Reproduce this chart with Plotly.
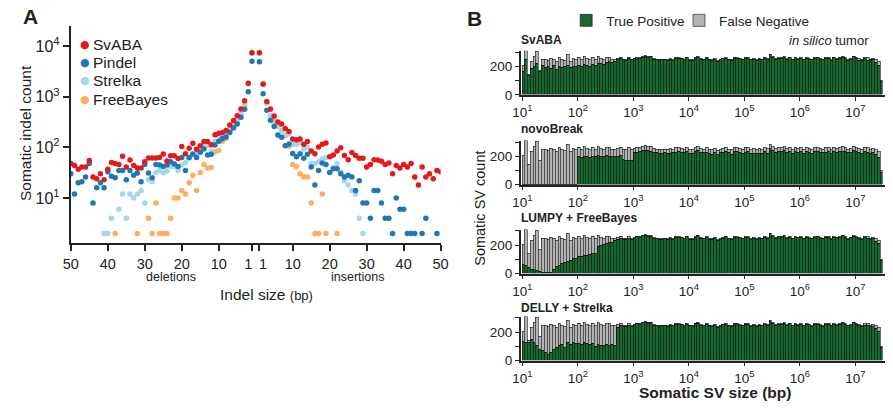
import plotly.graph_objects as go

W, H = 893, 413
def fx(px): return px / W
def fy(py): return 1 - py / H

FONT = "Liberation Sans, Arial, Helvetica, sans-serif"

# ---------------- Panel A data (index = indel size 1..50, None = no point) ----------------
indel_sizes = list(range(1, 51))
svaba_del = [7400,1850,835,575,420,340,277,215,197,189,177,113,130,130,108,92,120,96,75,104,
             60,68,68,54,74,63,62,62,62,52,39,39,44,56,41,67,46,48,50,37,
             23,30,24,26,55,41,41,37,44,48]
svaba_ins = [7400,1780,810,575,415,316,290,235,205,146,141,146,115,130,85,75,102,115,122,65,
             71,85,98,69,57,79,69,61,61,41,46,57,56,53,46,49,30,44,39,46,
             41,48,26,18,41,26,30,24,35,33]
pindel_del = [5000,1250,565,395,290,240,197,160,150,132,112,73,71,93,80,63,74,63,35,63,
              42,47,52,45,42,45,46,25,31,46,21,31,28,35,23,35,35,25,27,33,
              16,20,16,8,48,26,21,20,12,30]
pindel_ins = [4900,1150,540,345,258,175,158,108,117,76,65,75,61,73,41,18,35,49,46,32,
              38,38,30,26,28,26,14,22,8,8,4,14,14,8,4,4,2,10,6,6,
              2,2,2,None,2,4,None,None,2,None]
strelka_del = [7300,1800,630,460,360,290,260,200,168,165,132,85,108,110,85,75,72,60,50,45,
               35,42,42,34,31,35,32,21,23,8,14,12,10,12,4,12,6,None,4,2,
               2,None,None,None,None,None,None,None,None,None]
strelka_ins = [7300,1750,780,425,290,260,210,180,185,115,115,125,93,100,48,48,52,59,63,32,
               40,48,33,22,18,14,12,4,2,None,None,None,None,None,None,None,None,None,None,None,
               None,None,None,None,None,None,None,None,None,None]
freebayes_del = [7300,1800,700,460,320,255,215,150,132,87,82,40,39,46,32,14,28,20,12,14,
                 10,10,4,2,2,2,8,2,4,None,None,2,None,None,None,None,None,2,None,None,
                 None,None,None,None,None,None,None,None,None,None]
freebayes_ins = [7300,1750,750,560,345,280,215,170,105,46,42,30,26,26,8,2,2,12,2,None,
                 None,2,None,None,None,None,None,None,None,None,None,None,None,None,None,None,None,None,None,None,
                 None,None,None,None,None,None,None,None,None,None]

callers_a = [  # drawn bottom to top
    ("FreeBayes", "#fdae61", freebayes_del, freebayes_ins),
    ("Strelka", "#a6d5ec", strelka_del, strelka_ins),
    ("Pindel", "#1f78b4", pindel_del, pindel_ins),
    ("SvABA", "#e31a1c", svaba_del, svaba_ins),
]
a_xticks = [-50, -40, -30, -20, -10, -1, 1, 10, 20, 30, 40, 50]
a_xticktext = ["50", "40", "30", "20", "10", "1\u2002", "\u20021", "10", "20", "30", "40", "50"]

# ---------------- Panel B data (20 log bins per decade from 10^1) ----------------
sv_total = [
    205,310,140,230,265,300,170,250,245,240,255,250,230,260,250,240,285,235,255,250,
    260,250,265,255,245,260,250,265,255,250,262,258,245,250,255,262,250,245,258,250,
    255,262,258,270,275,265,268,255,250,245,248,250,245,252,250,258,260,255,250,262,
    248,245,262,268,255,250,258,248,245,252,240,248,255,262,250,245,258,262,255,250,
    258,260,248,252,245,255,250,258,252,285,270,252,262,258,268,255,262,250,260,255,
    258,250,262,255,248,258,262,255,250,258,260,248,262,255,258,268,260,250,255,270,
    262,255,248,262,258,250,255,245,230,100]
fn_svaba = [
    40,60,5,50,65,85,10,45,55,40,75,45,55,60,60,45,80,45,60,50,
    55,50,55,50,45,50,45,50,40,40,37,28,20,15,10,7,5,5,3,5,
    4,6,3,8,5,4,3,6,2,5,4,3,6,4,8,3,5,4,6,3,
    6,3,5,4,8,3,6,4,5,3,7,4,3,6,4,8,3,5,4,6,
    4,5,3,6,4,8,5,3,6,5,10,4,6,3,5,8,4,6,3,5,
    5,4,6,8,3,5,4,10,6,4,8,5,3,6,5,4,6,8,5,4,
    6,12,5,8,15,6,10,20,25,5]
fn_novobreak = [
    205,310,140,230,265,300,170,250,245,240,255,250,230,260,250,240,285,235,255,250,
    65,58,67,60,55,60,55,60,55,52,57,58,50,52,55,57,75,75,86,82,
    32,35,28,30,35,28,32,30,25,28,30,26,28,30,27,32,30,28,26,30,
    28,30,32,27,30,26,30,28,32,27,30,25,28,30,26,32,28,30,27,29,
    30,28,26,32,29,35,30,27,32,28,30,26,32,28,30,27,30,32,28,30,
    28,30,32,26,30,28,32,30,27,30,28,32,26,30,28,32,30,26,28,30,
    30,32,28,30,35,30,32,35,40,15]
fn_lumpy = [
    143,250,100,200,240,282,158,240,239,235,247,225,180,200,177,160,200,145,150,142,
    142,128,137,125,110,122,110,75,55,45,52,43,25,20,15,17,10,7,8,7,
    6,4,5,3,7,5,4,6,3,5,6,4,3,5,7,4,6,3,5,4,
    5,4,6,3,7,4,5,6,3,5,4,6,5,3,6,4,5,7,3,5,
    6,4,5,7,3,6,4,5,7,4,8,5,4,6,3,7,5,4,6,3,
    4,6,5,7,4,6,3,8,5,6,4,7,5,4,6,3,5,7,4,6,
    5,10,6,8,12,8,10,18,22,5]
fn_delly = [
    70,180,15,85,135,195,95,182,190,198,200,175,135,155,140,145,160,125,125,130,
    142,135,137,135,133,138,150,155,150,142,152,153,135,142,20,17,10,7,8,8,
    5,3,6,4,5,7,3,5,4,6,3,5,4,6,5,3,7,4,5,6,
    4,6,3,5,7,4,6,3,5,4,6,5,3,7,4,5,6,3,5,4,
    5,3,6,4,7,5,3,6,4,8,6,3,5,7,4,5,3,6,4,5,
    6,4,5,3,7,4,6,5,8,4,5,3,6,5,4,7,3,5,6,4,
    8,10,5,12,10,8,12,20,25,6]
sv_panels = [
    ("SvABA", fn_svaba),
    ("novoBreak", fn_novobreak),
    ("LUMPY + FreeBayes", fn_lumpy),
    ("DELLY + Strelka", fn_delly),
]
bins_per_decade = 20
bin_start_log10 = 1.0
sv_decades = [1, 2, 3, 4, 5, 6, 7]

GREEN = "#17692f"
GREY = "#b3b3b3"

fig = go.Figure()

# ---------------- Panel A ----------------
for name, color, dels, ins in callers_a:
    xs = [-s for s in indel_sizes] + indel_sizes
    ys = list(dels) + list(ins)
    fig.add_trace(go.Scatter(
        x=xs, y=ys, mode="markers", name=name, showlegend=False,
        marker=dict(color=color, size=5.5, line=dict(width=0)),
        xaxis="x", yaxis="y"))

axis_common = dict(showgrid=False, zeroline=False, showline=True, linecolor="#222",
                   ticks="outside", tickcolor="#222", color="#222")
layout = dict(
    width=W, height=H, margin=dict(l=0, r=0, t=0, b=0),
    plot_bgcolor="white", paper_bgcolor="white",
    font=dict(family=FONT, color="#222"),
    barmode="stack", bargap=0,
    xaxis=dict(domain=[fx(63), fx(440)], range=[-50, 50], anchor="y",
               tickvals=a_xticks, ticktext=a_xticktext, tickangle=0, linewidth=2, ticklen=6,
               tickwidth=1.5, tickfont=dict(size=14.5), **axis_common),
    yaxis=dict(domain=[fy(248), fy(27)], type="log", range=[0.107, 4.388], anchor="x",
               tickvals=[10, 100, 1000, 10000],
               ticktext=["10<sup>1</sup>", "10<sup>2</sup>", "10<sup>3</sup>", "10<sup>4</sup>"],
               linewidth=2, ticklen=6, tickwidth=1.5, tickfont=dict(size=16), **axis_common),
)

# ---------------- Panel B ----------------
n_bins = len(sv_total)
bin_centers = [bin_start_log10 + (k + 0.5) / bins_per_decade for k in range(n_bins)]
zero_px = [96.7, 188.3, 279.0, 367.7]
for i, (title, fn) in enumerate(sv_panels):
    ax = i + 2
    tp = [t - f for t, f in zip(sv_total, fn)]
    xa, ya = f"x{ax}", f"y{ax}"
    fig.add_trace(go.Bar(x=bin_centers, y=tp, width=1 / bins_per_decade, name="True Positive",
                         marker=dict(color=GREEN, line=dict(color="#111", width=0.6)),
                         xaxis=xa, yaxis=ya, legend="legend2", showlegend=(i == 0)))
    fig.add_trace(go.Bar(x=bin_centers, y=fn, width=1 / bins_per_decade, name="False Negative",
                         marker=dict(color=GREY, line=dict(color="#111", width=0.6)),
                         xaxis=xa, yaxis=ya, legend="legend3", showlegend=(i == 0)))
    z = zero_px[i]
    layout[f"xaxis{ax}"] = dict(domain=[fx(521.7), fx(892.5)], range=[0.972, 7.523],
                                anchor=ya, tickvals=sv_decades,
                                ticktext=[f"10<sup>{d}</sup>" for d in sv_decades],
                                tickangle=0, linewidth=1.5, ticklen=4, tickwidth=1.2,
                                tickfont=dict(size=13.5), **axis_common)
    layout[f"yaxis{ax}"] = dict(domain=[fy(z), fy(z - 44.9)], range=[0, 310], anchor=xa,
                                tickvals=[0, 100, 200, 300], ticktext=["0", "", "200", ""],
                                linewidth=1.5, ticklen=4, tickwidth=1.2,
                                tickfont=dict(size=13.5), **axis_common)

leg_common = dict(orientation="h", xanchor="left", yanchor="middle",
                  font=dict(size=13.5), bgcolor="rgba(0,0,0,0)",
                  itemclick=False, itemdoubleclick=False)
layout["legend2"] = dict(x=fx(568), y=fy(21), **leg_common)
layout["legend3"] = dict(x=fx(683), y=fy(21), **leg_common)

ann = []
def txt(x, y, text, size, xanchor="center", yanchor="middle", angle=0):
    ann.append(dict(x=fx(x), y=fy(y), xref="paper", yref="paper", text=text,
                    showarrow=False, xanchor=xanchor, yanchor=yanchor, textangle=angle,
                    font=dict(size=size, family=FONT, color="#222")))

# panel letters
txt(21.5, 17, "<b>A</b>", 21)
txt(474.5, 18.5, "<b>B</b>", 21)
# panel A legend (text glyph keys)
legend_rows = [("SvABA", "#e31a1c", 45), ("Pindel", "#1f78b4", 63.5),
               ("Strelka", "#a6d5ec", 82), ("FreeBayes", "#fdae61", 101)]
for name, color, yy in legend_rows:
    ann.append(dict(x=fx(77.7), y=fy(yy), xref="paper", yref="paper", text="●",
                    showarrow=False, xanchor="center", yanchor="middle",
                    font=dict(size=11, family="DejaVu Sans", color=color)))
    txt(83.5, yy, name, 15.5, xanchor="left")
# panel A axis titles
txt(17, 136, "Somatic indel count", 15.5, angle=-90)
txt(262, 300, "Indel size <span style='font-size:13px'>(bp)</span>", 15.5)
txt(165, 282, "deletions", 12.5)
txt(356, 282, "insertions", 12.5)
# panel B titles
for (title, _), yy in zip(sv_panels, [41, 132, 222, 314]):
    txt(520, yy, f"<b>{title}</b>", 12, xanchor="left")
txt(879, 41, "<i>in silico</i> tumor", 13, xanchor="right")
txt(720, 400, "<b>Somatic SV size (bp)</b>", 15.5)
txt(480, 212, "Somatic SV count", 14.5, angle=-90)
layout["annotations"] = ann

fig.update_layout(**layout)
fig.write_html("out.html", config={"displayModeBar": False},
               post_script="document.body.style.margin='0';document.body.style.padding='0';")
